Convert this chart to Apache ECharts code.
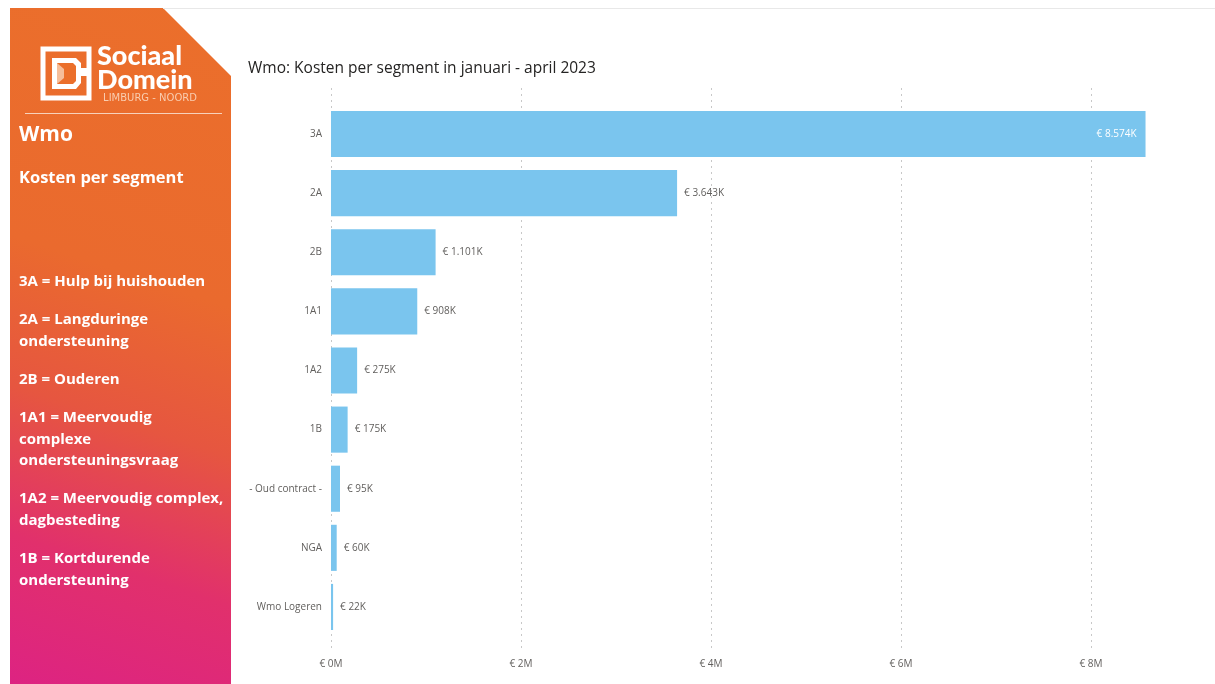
<!DOCTYPE html>
<html>
<head>
<meta charset="utf-8">
<script src="https://cdn.jsdelivr.net/npm/echarts@6/dist/echarts.min.js"></script>
<style>
html,body{margin:0;padding:0;background:#fff;}
#chart{width:1215px;height:684px;}
</style>
</head>
<body>
<div id="chart"></div>
<script>
// ---- Data ----
const categories = ['3A', '2A', '2B', '1A1', '1A2', '1B', '- Oud contract -', 'NGA', 'Wmo Logeren'];
const kosten = [8574000, 3643000, 1101000, 908000, 275000, 175000, 95000, 60000, 22000];
const chartTitle = 'Wmo: Kosten per segment in januari - april 2023';
const panelHeading = 'Wmo';
const panelSub = 'Kosten per segment';
const legendLines = [
  ['3A = Hulp bij huishouden'],
  ['2A = Langduringe', 'ondersteuning'],
  ['2B = Ouderen'],
  ['1A1 = Meervoudig', 'complexe', 'ondersteuningsvraag'],
  ['1A2 = Meervoudig complex,', 'dagbesteding'],
  ['1B = Kortdurende', 'ondersteuning']
];
const legendTops = [282, 320, 380, 418, 499, 559];

const chart = echarts.init(document.getElementById('chart'), null, {renderer: 'canvas'});

function fmtK(v) {
  const k = Math.round(v / 1000);
  return '€ ' + String(k).replace(/\B(?=(\d{3})+(?!\d))/g, '.') + 'K';
}

const FONT = '"Segoe UI", "Open Sans", sans-serif';
const BOLD = '"Open Sans", sans-serif';

// left panel graphics
const panelEls = [];
panelEls.push({
  type: 'polygon', silent: true, z: 0,
  shape: {points: [[10, 8], [163, 8], [231, 76], [231, 684], [10, 684]]},
  style: {
    fill: new echarts.graphic.LinearGradient(0, 1, 1, 0, [
      {offset: 0, color: '#DD2382'},
      {offset: 0.2, color: '#E1306C'},
      {offset: 0.4, color: '#E65640'},
      {offset: 0.6, color: '#EA6A2E'},
      {offset: 1, color: '#EB6F2B'}
    ])
  }
});
// top thin border line
panelEls.push({type: 'line', silent: true, shape: {x1: 163, y1: 8.5, x2: 1215, y2: 8.5}, style: {stroke: '#E8E8E8', lineWidth: 1}});
// logo icon
panelEls.push({type: 'rect', silent: true, shape: {x: 43, y: 49, width: 46, height: 49}, style: {fill: 'none', stroke: '#fff', lineWidth: 5}});
panelEls.push({type: 'polygon', silent: true, shape: {points: [[52, 58], [76, 58], [81, 63], [81, 68], [91, 68], [91, 76], [81, 76], [81, 83], [76, 89], [52, 89]]}, style: {fill: '#fff'}});
panelEls.push({type: 'polygon', silent: true, shape: {points: [[57, 63], [73, 63], [76, 66], [76, 81], [73, 84], [57, 84]]}, style: {fill: '#EB6F2B'}});
panelEls.push({type: 'polygon', silent: true, shape: {points: [[57, 63], [64, 69], [64, 78], [57, 84]]}, style: {fill: '#F6BE9A'}});
panelEls.push({type: 'text', silent: true, style: {text: 'Sociaal', x: 97, y: 56, fill: '#fff', font: '900 27px Lato, "Open Sans", sans-serif', verticalAlign: 'middle'}});
panelEls.push({type: 'text', silent: true, style: {text: 'Domein', x: 97, y: 80, fill: '#fff', font: '900 27px Lato, "Open Sans", sans-serif', verticalAlign: 'middle'}});
panelEls.push({type: 'text', silent: true, style: {text: 'LIMBURG - NOORD', x: 150, y: 98, fill: '#F9CDB0', font: '10px "DejaVu Sans", sans-serif', align: 'center', verticalAlign: 'middle'}});
panelEls.push({type: 'line', silent: true, shape: {x1: 25, y1: 113.5, x2: 222, y2: 113.5}, style: {stroke: '#F7D2BC', lineWidth: 1}});
panelEls.push({type: 'text', silent: true, style: {text: panelHeading, x: 19, y: 135, fill: '#fff', font: 'bold 21px ' + BOLD, verticalAlign: 'middle'}});
panelEls.push({type: 'text', silent: true, style: {text: panelSub, x: 19, y: 178, fill: '#fff', font: 'bold 16.5px ' + BOLD, verticalAlign: 'middle'}});
legendLines.forEach((lines, i) => {
  lines.forEach((t, j) => {
    panelEls.push({type: 'text', silent: true, style: {text: t, x: 19, y: legendTops[i] + j * 21.5, fill: '#fff', font: 'bold 15px ' + BOLD, verticalAlign: 'middle'}});
  });
});

const option = {
  animation: false,
  backgroundColor: '#fff',
  title: {
    text: chartTitle,
    left: 243, top: 56,
    textStyle: {fontFamily: FONT, fontSize: 15.5, fontWeight: 'normal', color: '#252423'}
  },
  graphic: panelEls,
  grid: [
    {left: 331, right: 29, top: 104.5, bottom: 47.5},
    {left: 331, right: 29, top: 88, bottom: 34}
  ],
  xAxis: [
    {
      gridIndex: 0, type: 'value', min: 0, max: 9000000, interval: 2000000,
      axisLine: {show: false}, axisTick: {show: false}, axisLabel: {show: false}, splitLine: {show: false}
    },
    {
      gridIndex: 1, type: 'value', min: 0, max: 9000000, interval: 2000000,
      axisLine: {show: false}, axisTick: {show: false},
      axisLabel: {
        showMaxLabel: false, margin: 9, color: '#605E5C', fontSize: 10, fontFamily: FONT,
        formatter: v => '€ ' + (v / 1000000) + 'M'
      },
      splitLine: {show: true, showMaxLine: false, lineStyle: {type: [2, 4], color: '#C8C8C8', width: 1}}
    }
  ],
  yAxis: [
    {
      gridIndex: 0, type: 'category', data: categories, inverse: true,
      axisLine: {show: false}, axisTick: {show: false},
      axisLabel: {margin: 9, color: '#605E5C', fontSize: 10, fontFamily: FONT}
    },
    {gridIndex: 1, type: 'value', show: false}
  ],
  series: [{
    type: 'bar',
    xAxisIndex: 0, yAxisIndex: 0,
    data: kosten.map((v, i) => ({
      value: v,
      label: i === 0 ? {position: 'insideRight', color: '#fff', distance: 9} : {position: 'right', color: '#605E5C', distance: 7}
    })),
    barCategoryGap: '22%',
    itemStyle: {color: '#7AC5EE'},
    label: {show: true, fontSize: 10, fontFamily: FONT, formatter: p => fmtK(p.value)}
  }]
};
chart.setOption(option);
</script>
</body>
</html>
